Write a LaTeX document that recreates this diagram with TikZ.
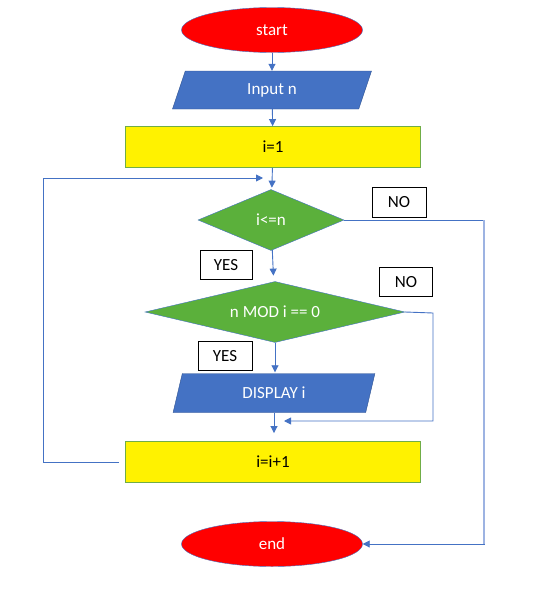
\documentclass[tikz,border=0pt]{standalone}
\usepackage{fontspec}
\setmainfont{Carlito}
\usepackage{tikz}
\usetikzlibrary{shapes.geometric,arrows.meta}
\definecolor{flowblue}{RGB}{68,114,196}
\definecolor{paleblue}{RGB}{157,179,226}
\definecolor{darkblue}{RGB}{47,82,143}
\definecolor{leafgreen}{RGB}{91,176,59}
\definecolor{boxgreen}{RGB}{112,173,71}
\tikzset{
	terminal/.style={ellipse, draw=flowblue, fill=red, text=white, minimum width=181pt, minimum height=45pt, inner sep=0pt},
	io/.style={trapezium, trapezium left angle=75, trapezium right angle=105, trapezium stretches=true, draw=darkblue, fill=flowblue, text=white, minimum width=200pt, minimum height=38pt, inner sep=0pt},
	process/.style={rectangle, draw=boxgreen, line width=0.9pt, fill=yellow, minimum width=295pt, minimum height=41pt},
	decision/.style={diamond, aspect=3, draw=flowblue, fill=leafgreen, text=white, minimum height=61pt, inner sep=0pt},
	tag/.style={rectangle, draw=black, line width=0.9pt, fill=white, minimum width=54pt, minimum height=30pt},
	flow/.style={draw=flowblue, line width=0.9pt, -{Triangle[length=7pt,width=7pt]}}
}

\begin{document}
\begin{tikzpicture}[x=1pt, y=-1pt, font=\fontsize{17}{20}\selectfont]
					\useasboundingbox (0,0) rectangle (536,600);
					\node[terminal] (start) at (272,30) {start};
					\node[io] (input) at (272,90) {Input n};
					\node[process] (init) at (273,147) {i=1};
					\node[decision, minimum width=146pt] (cond1) at (271,220) {i\textless=n};
					\node[decision, minimum width=260pt] (cond2) at (275,312) {n MOD i == 0};
					\node[io, minimum width=202pt, minimum height=39pt] (display) at (274,393) {DISPLAY i};
					\node[process] (inc) at (273,462) {i=i+1};
					\node[terminal] (stop) at (272,544) {end};
					\node[tag] (no1) at (399,202) {NO};
					\node[tag, minimum width=52pt, minimum height=29pt] (yes1) at (226,265) {YES};
					\node[tag, minimum width=53pt, minimum height=29pt] (no2) at (406,282) {NO};
					\node[tag, minimum height=29pt] (yes2) at (225,356) {YES};
					\coordinate (loopin) at (263,178);
					\coordinate (loopleft) at (43,178);
					\coordinate (rail1) at (484,220);
					\coordinate (rail2) at (433,313);
					\coordinate (merge) at (284,421);
					\draw[flow] (start) -- (input);
					\draw[flow] (input) -- (init);
					\draw[flow, shorten >=2pt] (init) -- (cond1);
					\draw[flow, shorten >=6pt] (cond1) -- (cond2);
					\draw[flow, shorten >=1pt] (cond2.south) -- (cond2.south |- display.north);
					\draw[flow, shorten >=8pt] (display.south) -- (display.south |- inc.north);
					\draw[flow] ([xshift=-6pt]inc.west) -| (loopleft) -- (loopin);
					\draw[flow] (cond1.east) -- (rail1) |- (stop.east);
					\draw[paleblue, line width=1.5pt] (rail1) -- (rail1 |- stop.east);
					\draw[flow] (cond2.east) -- (rail2) |- (merge);
				\end{tikzpicture}
\end{document}
